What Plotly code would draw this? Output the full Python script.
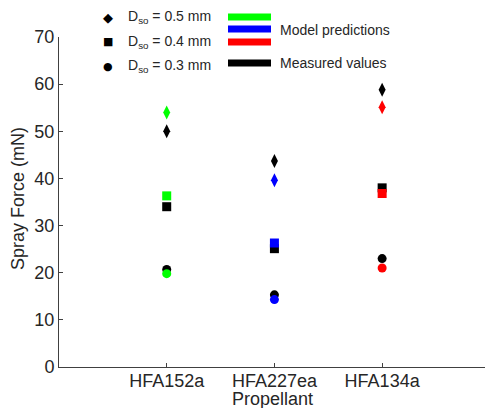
import plotly.graph_objects as go

propellants = ["HFA152a", "HFA227ea", "HFA134a"]
model_colors = ["#00ff00", "#0000ff", "#ff0000"]

# Measured values (black)
meas_05 = [50.0, 43.7, 58.8]
meas_04 = [34.0, 25.1, 38.0]
meas_03 = [20.7, 15.3, 23.0]
# Model predictions (coloured)
model_05 = [54.0, 39.6, 55.1]
model_04 = [36.3, 26.3, 36.8]
model_03 = [19.8, 14.3, 21.0]

xpos = [1, 2, 3]

W, H = 485, 408
ML, MR, MT, MB = 59, 0, 37, 41
PW, PH = W - ML - MR, H - MT - MB

fig = go.Figure()

def add(vals, symbol, color, size):
    fig.add_trace(go.Scatter(
        x=xpos, y=vals, mode="markers",
        marker=dict(symbol=symbol, color=color, size=size, line=dict(width=0)),
        showlegend=False, hoverinfo="skip"))

add(meas_05, "diamond-tall", "black", 10)
add(meas_04, "square", "black", 9)
add(meas_03, "circle", "black", 9)
add(model_05, "diamond-tall", model_colors, 10)
add(model_04, "square", model_colors, 9)
add(model_03, "circle", model_colors, 9)

font = "Liberation Sans, Arial, sans-serif"
txtcol = "#262626"

fig.update_layout(
    width=W, height=H,
    margin=dict(l=ML, r=MR, t=MT, b=MB, pad=0),
    paper_bgcolor="white", plot_bgcolor="white",
    font=dict(family=font, color=txtcol),
    xaxis=dict(range=[0, 3.955], tickvals=xpos, ticktext=propellants,
               ticks="inside", ticklen=4, tickcolor="#404040",
               showline=True, linecolor="#404040", linewidth=1,
               showgrid=False, zeroline=False, tickfont=dict(size=18),
               ticklabelstandoff=-3, automargin=False),
    yaxis=dict(range=[0, 70], tickvals=[0, 10, 20, 30, 40, 50, 60, 70],
               ticks="inside", ticklen=4, tickcolor="#404040",
               showline=True, linecolor="#404040", linewidth=1,
               showgrid=False, zeroline=False, tickfont=dict(size=18),
               automargin=False),
)

def px(x):
    return (x - ML) / PW

def py(y):
    return 1 - (y - MT) / PH

def ann(x, y, text, size, xanchor="left", family=font, color=txtcol, angle=0):
    fig.add_annotation(x=px(x), y=py(y), xref="paper", yref="paper",
                       text=text, showarrow=False, xanchor=xanchor, yanchor="middle",
                       textangle=angle, font=dict(size=size, color=color, family=family))

# Axis titles
ann(18, 199, "Spray Force (mN)", 18, xanchor="center", angle=-90)
ann(272, 399, "Propellant", 18, xanchor="center")

# Legend: marker symbols and labels
legend_rows = [(17, "◆", "0.5", 13), (42, "■", "0.4", 11), (66, "●", "0.3", 11)]
for yy, sym, val, sz in legend_rows:
    ann(108, yy, sym, sz, xanchor="center", family="DejaVu Sans", color="black")
    ann(126, yy, f"D<sub>so</sub> = {val} mm", 14)

# Colour bars
bars = [(17, model_colors[0]), (29, model_colors[1]), (42, model_colors[2]), (63, "black")]
for yc, col in bars:
    fig.add_shape(type="rect", xref="paper", yref="paper",
                  x0=px(228), x1=px(271), y0=py(yc - 3.5), y1=py(yc + 3.5),
                  fillcolor=col, line=dict(width=0))

ann(278, 30, "Model predictions", 14)
ann(278, 63, "Measured values", 14)

fig.write_html("out.html")
